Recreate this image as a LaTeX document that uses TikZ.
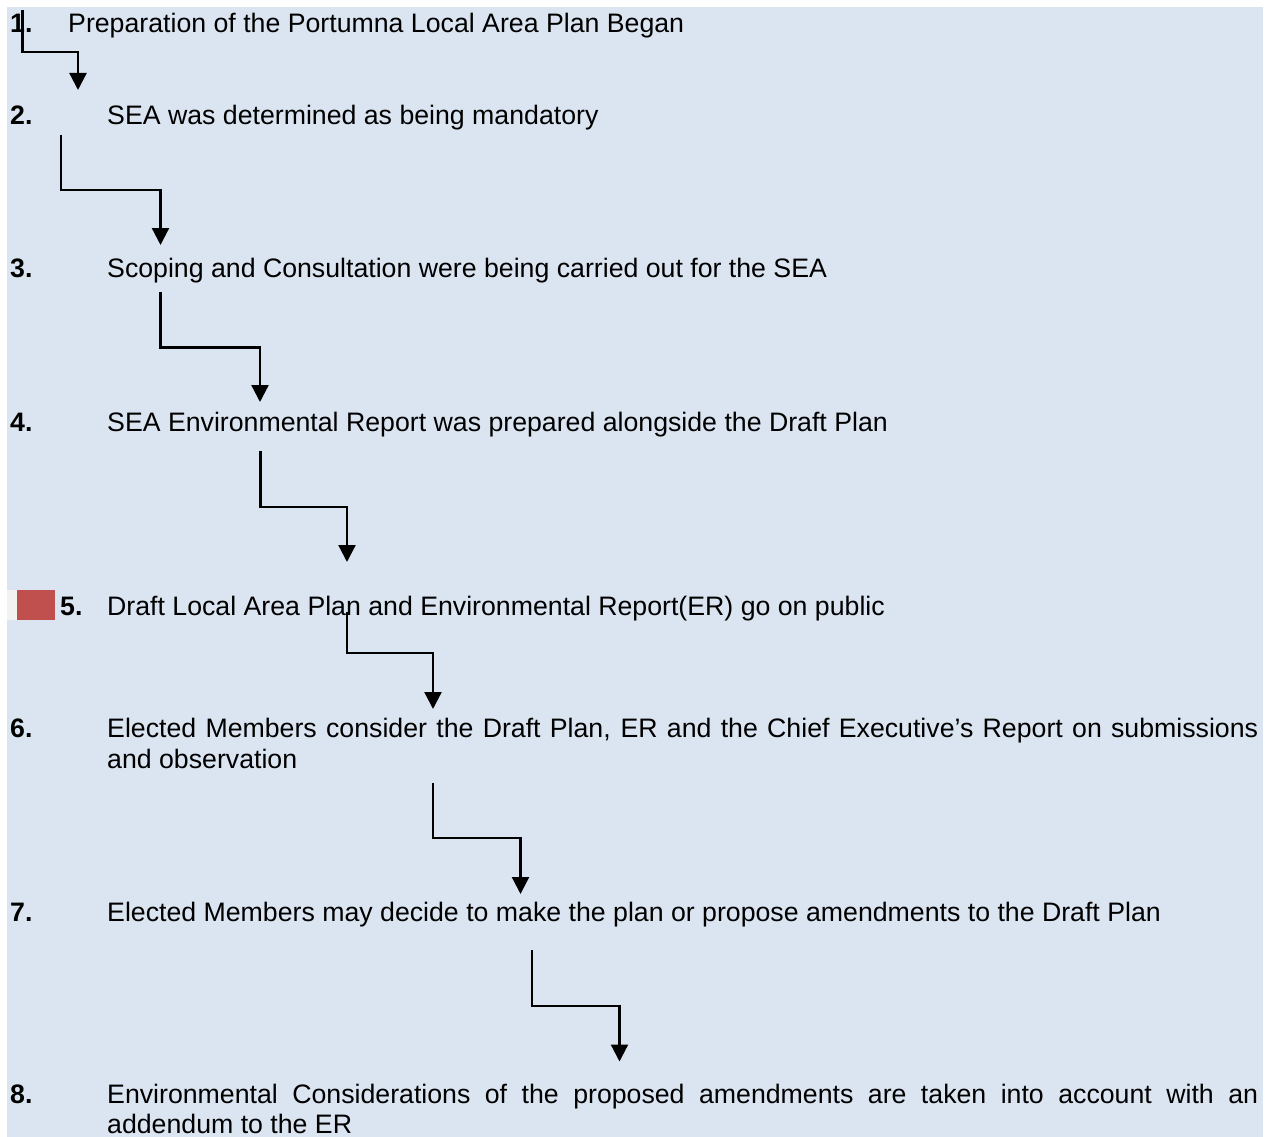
\documentclass[tikz,border=0pt]{standalone}
\usepackage{fontspec}
\setmainfont{Liberation Sans}
\usetikzlibrary{arrows.meta}
\definecolor{bgblue}{HTML}{DBE5F1}
\definecolor{redsq}{HTML}{C0504D}
\definecolor{greysq}{HTML}{F2F2F2}
\begin{document}
\begin{tikzpicture}[x=1pt,y=-1pt,
  txt/.style={anchor=base west,inner sep=0pt,font=\fontsize{26.7}{31}\selectfont},
  num/.style={anchor=base west,inner sep=0pt,font=\fontsize{26.7}{31}\selectfont\bfseries},
  arr/.style={line width=2.3pt,-{Triangle[width=17pt,length=17pt]}}]
\useasboundingbox (0,0) rectangle (1270,1137);
\fill[white] (0,0) rectangle (1270,1137);
\fill[bgblue] (7,7) rectangle (1263,1137);
\fill[greysq] (7,590) rectangle (17,620);
\fill[redsq] (17,590) rectangle (55,620);
% texts
\node[num] (n1) at (10,32.5) {1.};
\node[txt] (t1) at (68,32.5) {Preparation of the Portumna Local Area Plan Began};
\node[num] (n2) at (10,124.5) {2.};
\node[txt] (t2) at (107,124.5) {SEA was determined as being mandatory};
\node[num] (n3) at (10,277.5) {3.};
\node[txt] (t3) at (107,277.5) {Scoping and Consultation were being carried out for the SEA};
\node[num] (n4) at (10,431.5) {4.};
\node[txt] (t4) at (107,431.5) {SEA Environmental Report was prepared alongside the Draft Plan};
\node[num] (n5) at (60,615.5) {5.};
\node[txt] (t5) at (107,615.5) {Draft Local Area Plan and Environmental Report(ER) go on public};
\node[num] (n6) at (10,737.5) {6.};
\node[txt] (t6) at (107,737.5) {\parbox[t]{1151pt}{\fontsize{26.7}{31}\selectfont Elected Members consider the Draft Plan, ER and the Chief Executive’s Report on submissions\linebreak and observation}};
\node[num] (n7) at (10,921.5) {7.};
\node[txt] (t7) at (107,921.5) {Elected Members may decide to make the plan or propose amendments to the Draft Plan};
\node[num] (n8) at (10,1103) {8.};
\node[txt] (t8) at (107,1103) {\parbox[t]{1151pt}{\fontsize{26.7}{30}\selectfont Environmental Considerations of the proposed amendments are taken into account with an\linebreak addendum to the ER}};
% connector coordinates
\coordinate (a1s) at (22.5,10);   \coordinate (a1m) at (0,52);    \coordinate (a1e) at (78,90);
\coordinate (a2s) at (61,135);    \coordinate (a2m) at (0,190);   \coordinate (a2e) at (160.5,245);
\coordinate (a3s) at (160.5,292); \coordinate (a3m) at (0,347.5); \coordinate (a3e) at (260,402);
\coordinate (a4s) at (260.5,451); \coordinate (a4m) at (0,507);   \coordinate (a4e) at (347,562);
\coordinate (a5s) at (347,612);   \coordinate (a5m) at (0,653);   \coordinate (a5e) at (433,709);
\coordinate (a6s) at (433,783);   \coordinate (a6m) at (0,838);   \coordinate (a6e) at (520.5,894);
\coordinate (a7s) at (532,950);   \coordinate (a7m) at (0,1006);  \coordinate (a7e) at (619.5,1061.5);
\foreach \i in {1,...,7}{
  \draw[arr] (a\i s) -- (a\i s |- a\i m) -| (a\i e);
}
\end{tikzpicture}
\end{document}
